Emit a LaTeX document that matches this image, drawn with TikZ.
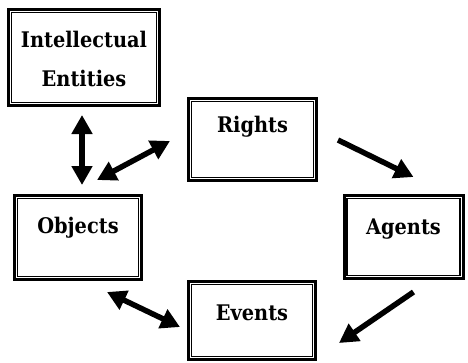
\documentclass[tikz,border=0pt]{standalone}
\usepackage{fontspec}
\newfontfamily\boxfont{DejaVu Serif Condensed}
\usetikzlibrary{arrows.meta}
\begin{document}
\begin{tikzpicture}[x=1pt,y=-1pt,
  box/.style={draw=black, line width=3pt, rectangle, inner sep=0pt},
  txt/.style={inner sep=0pt, font=\boxfont\bfseries\fontsize{21.5}{39}\selectfont},
  tipA/.tip={Triangle[width=20pt,length=19pt]},
  arr/.style={line width=5.5pt, -tipA},
  darr/.style={line width=5.5pt, tipA-tipA}]
\useasboundingbox[fill=white] (0,0) rectangle (468,362);
% boxes
\node[box, minimum width=151pt, minimum height=96pt] (ie) at (84,57.5) {};
\node[box, minimum width=128pt, minimum height=82pt] (rights) at (252.5,139.5) {};
\node[box, minimum width=127pt, minimum height=84pt] (objects) at (78,237.5) {};
\node[box, minimum width=119pt, minimum height=83pt] (agents) at (403.5,237) {};
\node[box, minimum width=127pt, minimum height=78pt] (events) at (252,320.5) {};
\foreach \n in {ie,rights,objects,agents,events}
  \draw[line width=1.2pt] ([shift={(4.5pt,4.5pt)}]\n.south west) rectangle ([shift={(-4.5pt,-4.5pt)}]\n.north east);
% texts
\node[txt, anchor=north, align=center] (tie) at (84,30.5) {Intellectual\\Entities};
\node[txt, anchor=base] (trights) at (252.5,132) {Rights};
\node[txt, anchor=base] (tobjects) at (78,233) {Objects};
\node[txt, anchor=base] (tagents) at (403.5,234) {Agents};
\node[txt, anchor=base] (tevents) at (252,320) {Events};
% connectors
\draw[darr] ([shift={(-2,8)}]ie.south) -- ([shift={(4,-9)}]objects.north);
\draw[darr] ([shift={(19,-14)}]objects.north) -- ([shift={(-17,1.5)}]rights.west);
\draw[arr] ([shift={(20,0.5)}]rights.east) -- ([shift={(10,-17)}]agents.north);
\draw[arr] ([shift={(10,12)}]agents.south) -- ([shift={(22,22.5)}]events.east);
\draw[darr] ([shift={(29,11)}]objects.south) -- ([shift={(-7,6.5)}]events.west);
\end{tikzpicture}
\end{document}
